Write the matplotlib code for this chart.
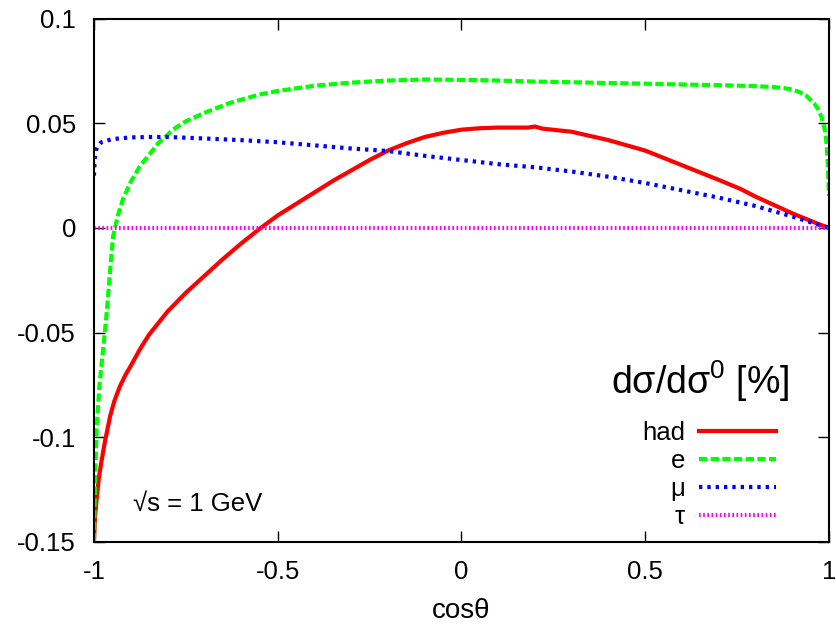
import numpy as np
import matplotlib

matplotlib.use('agg')
from matplotlib import pyplot as plt

plt.rcParams['font.family'] = ['Liberation Sans', 'DejaVu Sans']
plt.rcParams['mathtext.fontset'] = 'custom'
plt.rcParams['mathtext.rm'] = 'Liberation Sans'
plt.rcParams['mathtext.it'] = 'Liberation Sans:italic'

# hadrons
had_x = [-1.0, -0.997, -0.993, -0.987, -0.98, -0.97, -0.956, -0.945, -0.93, -0.915, -0.9, -0.875,
         -0.85, -0.825, -0.8, -0.75, -0.7, -0.65, -0.6, -0.55, -0.5, -0.45, -0.4, -0.35, -0.3,
         -0.25, -0.2, -0.15, -0.1, -0.05, 0.0, 0.05, 0.1, 0.18, 0.2, 0.22, 0.3, 0.4, 0.5, 0.6,
         0.7, 0.76, 0.8, 0.9, 0.97, 1.0]
had_y = [-0.15, -0.138, -0.13, -0.12, -0.112, -0.102, -0.09, -0.083, -0.076, -0.0705, -0.066, -0.058,
         -0.051, -0.0455, -0.040, -0.031, -0.023, -0.015, -0.0075, -0.0005, 0.006, 0.0115, 0.017, 0.0225, 0.0275,
         0.0325, 0.037, 0.0405, 0.0435, 0.0455, 0.047, 0.0477, 0.048, 0.048, 0.0485, 0.0475, 0.046, 0.042, 0.037, 0.030,
         0.023, 0.0186, 0.015, 0.007, 0.002, 0.0]

# electrons
e_x = [-1.0, -0.997, -0.993, -0.985, -0.975, -0.965, -0.955, -0.948, -0.935, -0.921, -0.9,
       -0.875, -0.85, -0.825, -0.8, -0.785, -0.75, -0.7, -0.63, -0.55, -0.5, -0.4, -0.3, -0.2, -0.1, 0.0, 0.1,
       0.2, 0.3, 0.4, 0.5, 0.6, 0.7, 0.8, 0.85, 0.88, 0.9, 0.92, 0.94, 0.96, 0.97, 0.98, 0.99, 0.994,
       0.997, 1.0]
e_y = [-0.15, -0.12, -0.097, -0.075, -0.058, -0.040, -0.018, -0.004, 0.006, 0.0138, 0.022,
       0.0295, 0.035, 0.0405, 0.0445, 0.047, 0.051, 0.055, 0.0598, 0.0638, 0.0655, 0.068, 0.0695, 0.0705, 0.071, 0.0708, 0.0705,
       0.070, 0.0697, 0.0693, 0.069, 0.0686, 0.0683, 0.0678, 0.0674, 0.0668, 0.0662, 0.065, 0.063, 0.0595, 0.057, 0.053, 0.046, 0.039,
       0.030, 0.0154]

# muons
mu_x = [-1.0, -0.998, -0.995, -0.99, -0.98, -0.95, -0.9, -0.85, -0.8, -0.7, -0.6, -0.5,
        -0.4, -0.3, -0.2, -0.1, 0.0, 0.1, 0.2, 0.3, 0.4, 0.5, 0.6, 0.7, 0.8, 0.9, 1.0]
mu_y = [0.025, 0.033, 0.037, 0.039, 0.041, 0.0425, 0.0433, 0.0435, 0.0435, 0.0428, 0.042, 0.041,
        0.0395, 0.038, 0.0368, 0.0345, 0.0325, 0.0305, 0.029, 0.027, 0.0245, 0.0215, 0.018, 0.0145,
        0.0105, 0.0055, 0.0]

# taus
tau_x = [-1.0, -0.5, 0.0, 0.5, 1.0]
tau_y = [0.0, 0.0, 0.0, 0.0, 0.0]

fig = plt.figure(figsize=(8.36, 6.28), dpi=100)
ax = fig.add_axes([0.1124, 0.1375, 0.8792, 0.8325])

ax.plot(had_x, had_y, color='#ff0000', lw=3, ls='-', label='had')
ax.plot(e_x, e_y, color='#00ff00', lw=3, ls=(0, (2, 0.8)), label='e')
ax.plot(mu_x, mu_y, color='#0000ff', lw=3, ls=(0, (0.8, 1.2)), label='μ')
ax.plot(tau_x, tau_y, color='#ff00ff', lw=3, ls=(0, (0.4, 0.6)), label='τ')

ax.set_xlim(-1, 1)
ax.set_ylim(-0.15, 0.1)
ax.set_xticks([-1, -0.5, 0, 0.5, 1])
ax.set_xticklabels(['-1', '-0.5', '0', '0.5', '1'])
ax.set_yticks([-0.15, -0.1, -0.05, 0, 0.05, 0.1])
ax.set_yticklabels(['-0.15', '-0.1', '-0.05', '0', '0.05', '0.1'])
ax.tick_params(direction='in', length=8, width=1, labelsize=18.5, top=True, right=True, pad=13)
for s in ax.spines.values():
    s.set_linewidth(1.5)
ax.set_xlabel('cosθ', fontsize=20, labelpad=10)

ax.text(-0.717, -0.132, '√s = 1 GeV', fontsize=18.5, ha='center', va='center')
ax.text(0.649, -0.0733, 'dσ/dσ$^0$ [%]', fontsize=27, ha='center', va='center')

leg = ax.legend(loc='lower right', bbox_to_anchor=(0.946, 0.0), frameon=False, markerfirst=False,
                fontsize=18.5, handlelength=3.0,
                labelspacing=0.15, handletextpad=0.55, borderpad=0)
for t in leg.get_texts():
    t.set_ha('right')
leg._legend_box.align = 'right'

plt.savefig('out.png')
